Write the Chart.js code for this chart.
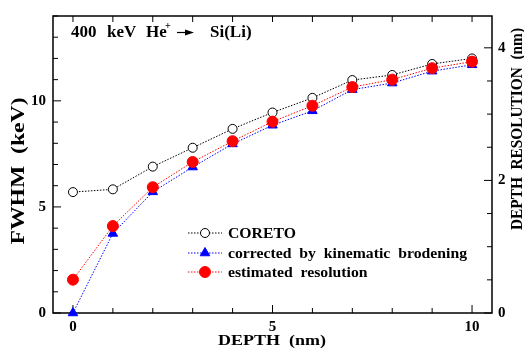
<!DOCTYPE html>
<html>
<head>
<meta charset="utf-8">
<script src="https://cdn.jsdelivr.net/npm/chart.js@4/dist/chart.umd.min.js"></script>
<style>
  html, body { margin: 0; padding: 0; background: #fff; }
  #wrap { width: 524px; height: 348px; }
</style>
</head>
<body>
<div id="wrap"><canvas id="myChart" width="524" height="348"></canvas></div>
<script>
const depth = [0, 1, 2, 3, 4, 5, 6, 7, 8, 9, 10];
const coreto = [5.7, 5.83, 6.9, 7.79, 8.68, 9.45, 10.14, 10.98, 11.22, 11.74, 12.0];
const corrected = [0, 3.75, 5.71, 6.88, 7.97, 8.85, 9.53, 10.53, 10.84, 11.4, 11.7];
const estimated = [1.57, 4.1, 5.93, 7.12, 8.1, 9.02, 9.77, 10.65, 11.0, 11.54, 11.85];
const xTicks = [0, 5, 10];
const yTicks = [0, 5, 10];
const y2Ticks = [0, 2, 4];
const seriesNames = ['CORETO', 'corrected  by  kinematic  brodening', 'estimated  resolution'];

const serif = 'Liberation Serif, Times New Roman, serif';

function pts(ys){
  return depth.map(function(x, i){ return {x: x, y: ys[i]}; });
}

// text drawn a bit wider than the font, the way the original figure is set
function wideText(ctx, text, x, y, size, width, rot){
  ctx.save();
  ctx.font = 'bold ' + size + 'px ' + serif;
  const sx = width / ctx.measureText(text).width;
  ctx.translate(x, y);
  ctx.rotate(rot || 0);
  ctx.scale(sx, 1);
  ctx.textAlign = 'center';
  ctx.textBaseline = 'middle';
  ctx.fillStyle = '#000';
  ctx.fillText(text, 0, 0);
  ctx.restore();
}

// frame and inward tick marks like the original plot
const frameTicks = {
  id: 'frameTicks',
  beforeDatasetsDraw: function(chart){
    const ctx = chart.ctx;
    const a = chart.chartArea;
    const sx = chart.scales.x, sy = chart.scales.y, sy2 = chart.scales.y2;
    ctx.save();
    ctx.strokeStyle = '#000';
    ctx.lineWidth = 1.5;
    ctx.strokeRect(a.left, a.top, a.right - a.left, a.bottom - a.top);
    ctx.lineWidth = 1;
    ctx.beginPath();
    for(let v = 0; v <= 10; v++){
      const px = sx.getPixelForValue(v);
      const len = v % 5 == 0 ? 8 : 5;
      ctx.moveTo(px, a.bottom); ctx.lineTo(px, a.bottom - len);
      ctx.moveTo(px, a.top); ctx.lineTo(px, a.top + 6);
    }
    for(let v = 0; v <= 14; v++){
      const py = sy.getPixelForValue(v);
      const len = v % 5 == 0 ? 8 : 5;
      ctx.moveTo(a.left, py); ctx.lineTo(a.left + len, py);
    }
    for(let v = 0; v <= 4.4; v += 0.5){
      const py = sy2.getPixelForValue(v);
      const len = v % 2 == 0 ? 8 : 5;
      ctx.moveTo(a.right, py); ctx.lineTo(a.right - len, py);
    }
    ctx.stroke();
    ctx.restore();
  },
  afterDraw: function(chart){
    const ctx = chart.ctx;

    // axis titles
    wideText(ctx, 'DEPTH  (nm)', 272, 341, 15, 108, 0);
    wideText(ctx, 'FWHM  (keV)', 19, 171, 18, 147, -Math.PI / 2);
    wideText(ctx, 'DEPTH  RESOLUTION  (nm)', 518, 129, 17, 202, -Math.PI / 2);

    ctx.save();
    ctx.fillStyle = '#000';
    ctx.textBaseline = 'alphabetic';
    ctx.font = 'bold 17px ' + serif;
    ctx.fillText('400', 71, 37);
    ctx.fillText('keV', 107, 37);
    ctx.fillText('He', 146, 37);
    ctx.font = 'bold 10px ' + serif;
    ctx.fillText('+', 165, 29);
    // arrow
    ctx.strokeStyle = '#000';
    ctx.lineWidth = 1.2;
    ctx.beginPath();
    ctx.moveTo(177, 32.5); ctx.lineTo(187, 32.5);
    ctx.stroke();
    ctx.beginPath();
    ctx.moveTo(194, 32.5); ctx.lineTo(185, 29.5); ctx.lineTo(185, 35.5);
    ctx.closePath(); ctx.fill();
    ctx.font = 'bold 17px ' + serif;
    ctx.fillText('Si(Li)', 210, 37);

    // legend
    const rows = [233, 253, 272];
    ctx.font = 'bold 14px ' + serif;
    const stretch = 239 / ctx.measureText(seriesNames[1]).width;
    for(let i = 0; i < 3; i++){
      const ds = chart.data.datasets[i];
      const y = rows[i];
      ctx.save();
      ctx.strokeStyle = ds.borderColor;
      ctx.lineWidth = ds.borderWidth;
      ctx.setLineDash(ds.borderDash);
      ctx.beginPath();
      ctx.moveTo(188, y); ctx.lineTo(222, y);
      ctx.stroke();
      ctx.restore();

      ctx.save();
      ctx.fillStyle = ds.pointBackgroundColor;
      ctx.strokeStyle = ds.pointBorderColor;
      ctx.lineWidth = ds.pointBorderWidth;
      ctx.beginPath();
      const r = ds.pointRadius;
      if(ds.pointStyle == 'triangle'){
        let rad = 0;
        ctx.moveTo(205 + Math.sin(rad) * r, y - Math.cos(rad) * r);
        rad += Math.PI * 2 / 3;
        ctx.lineTo(205 + Math.sin(rad) * r, y - Math.cos(rad) * r);
        rad += Math.PI * 2 / 3;
        ctx.lineTo(205 + Math.sin(rad) * r, y - Math.cos(rad) * r);
        ctx.closePath();
      }else{
        ctx.arc(205, y, r, 0, Math.PI * 2);
      }
      ctx.fill(); ctx.stroke();
      ctx.restore();

      ctx.save();
      ctx.translate(228, y + 1);
      ctx.scale(stretch, 1);
      ctx.textBaseline = 'middle';
      ctx.fillStyle = '#000';
      ctx.fillText(seriesNames[i], 0, 0);
      ctx.restore();
    }
    ctx.restore();
  }
};

const ctx = document.getElementById('myChart').getContext('2d');
// eslint-disable-next-line no-undef
const chart = new Chart(ctx, {
  type: 'line',
  data: {
    datasets: [{
      label: seriesNames[0],
      data: pts(coreto),
      borderColor: '#000',
      borderWidth: 1,
      borderDash: [1.5, 1.5],
      pointStyle: 'circle',
      pointRadius: 4.5,
      pointBackgroundColor: '#fff',
      pointBorderColor: '#000',
      pointBorderWidth: 1,
      order: 2,
      clip: false
    },
    {
      label: seriesNames[1],
      data: pts(corrected),
      borderColor: '#0000ff',
      borderWidth: 1,
      borderDash: [1.5, 1.5],
      pointStyle: 'triangle',
      pointRadius: 5.5,
      pointBackgroundColor: '#0000ff',
      pointBorderColor: '#0000ff',
      pointBorderWidth: 1,
      order: 1,
      clip: false
    },
    {
      label: seriesNames[2],
      data: pts(estimated),
      borderColor: '#ff0000',
      borderWidth: 1,
      borderDash: [1.5, 1.5],
      pointStyle: 'circle',
      pointRadius: 5.5,
      pointBackgroundColor: '#ff0000',
      pointBorderColor: '#ff0000',
      pointBorderWidth: 1,
      order: 0,
      clip: false
    }]
  },
  options: {
    responsive: false,
    animation: false,
    layout: { padding: { top: 13, left: 0, right: 0, bottom: 0 } },
    plugins: { legend: { display: false }, tooltip: { enabled: false } },
    scales: {
      x: {
        type: 'linear', min: -0.5, max: 10.5,
        afterBuildTicks: function(s){ s.ticks = xTicks.map(function(v){ return {value: v}; }); },
        afterFit: function(s){ s.height = 35; },
        grid: { display: false, drawTicks: false },
        border: { display: false },
        ticks: { color: '#000', padding: 5, font: { family: serif, size: 15, weight: 'bold' } }
      },
      y: {
        type: 'linear', position: 'left', min: 0, max: 14,
        afterBuildTicks: function(s){ s.ticks = yTicks.map(function(v){ return {value: v}; }); },
        afterFit: function(s){ s.width = 53; },
        grid: { display: false, drawTicks: false },
        border: { display: false },
        ticks: { color: '#000', padding: 7, font: { family: serif, size: 15, weight: 'bold' } }
      },
      y2: {
        type: 'linear', position: 'right', min: 0, max: 4.48,
        afterBuildTicks: function(s){ s.ticks = y2Ticks.map(function(v){ return {value: v}; }); },
        afterFit: function(s){ s.width = 32; },
        grid: { display: false, drawTicks: false },
        border: { display: false },
        ticks: { color: '#000', padding: 6, font: { family: serif, size: 15, weight: 'bold' } }
      }
    }
  },
  plugins: [frameTicks]
});
</script>
</body>
</html>
